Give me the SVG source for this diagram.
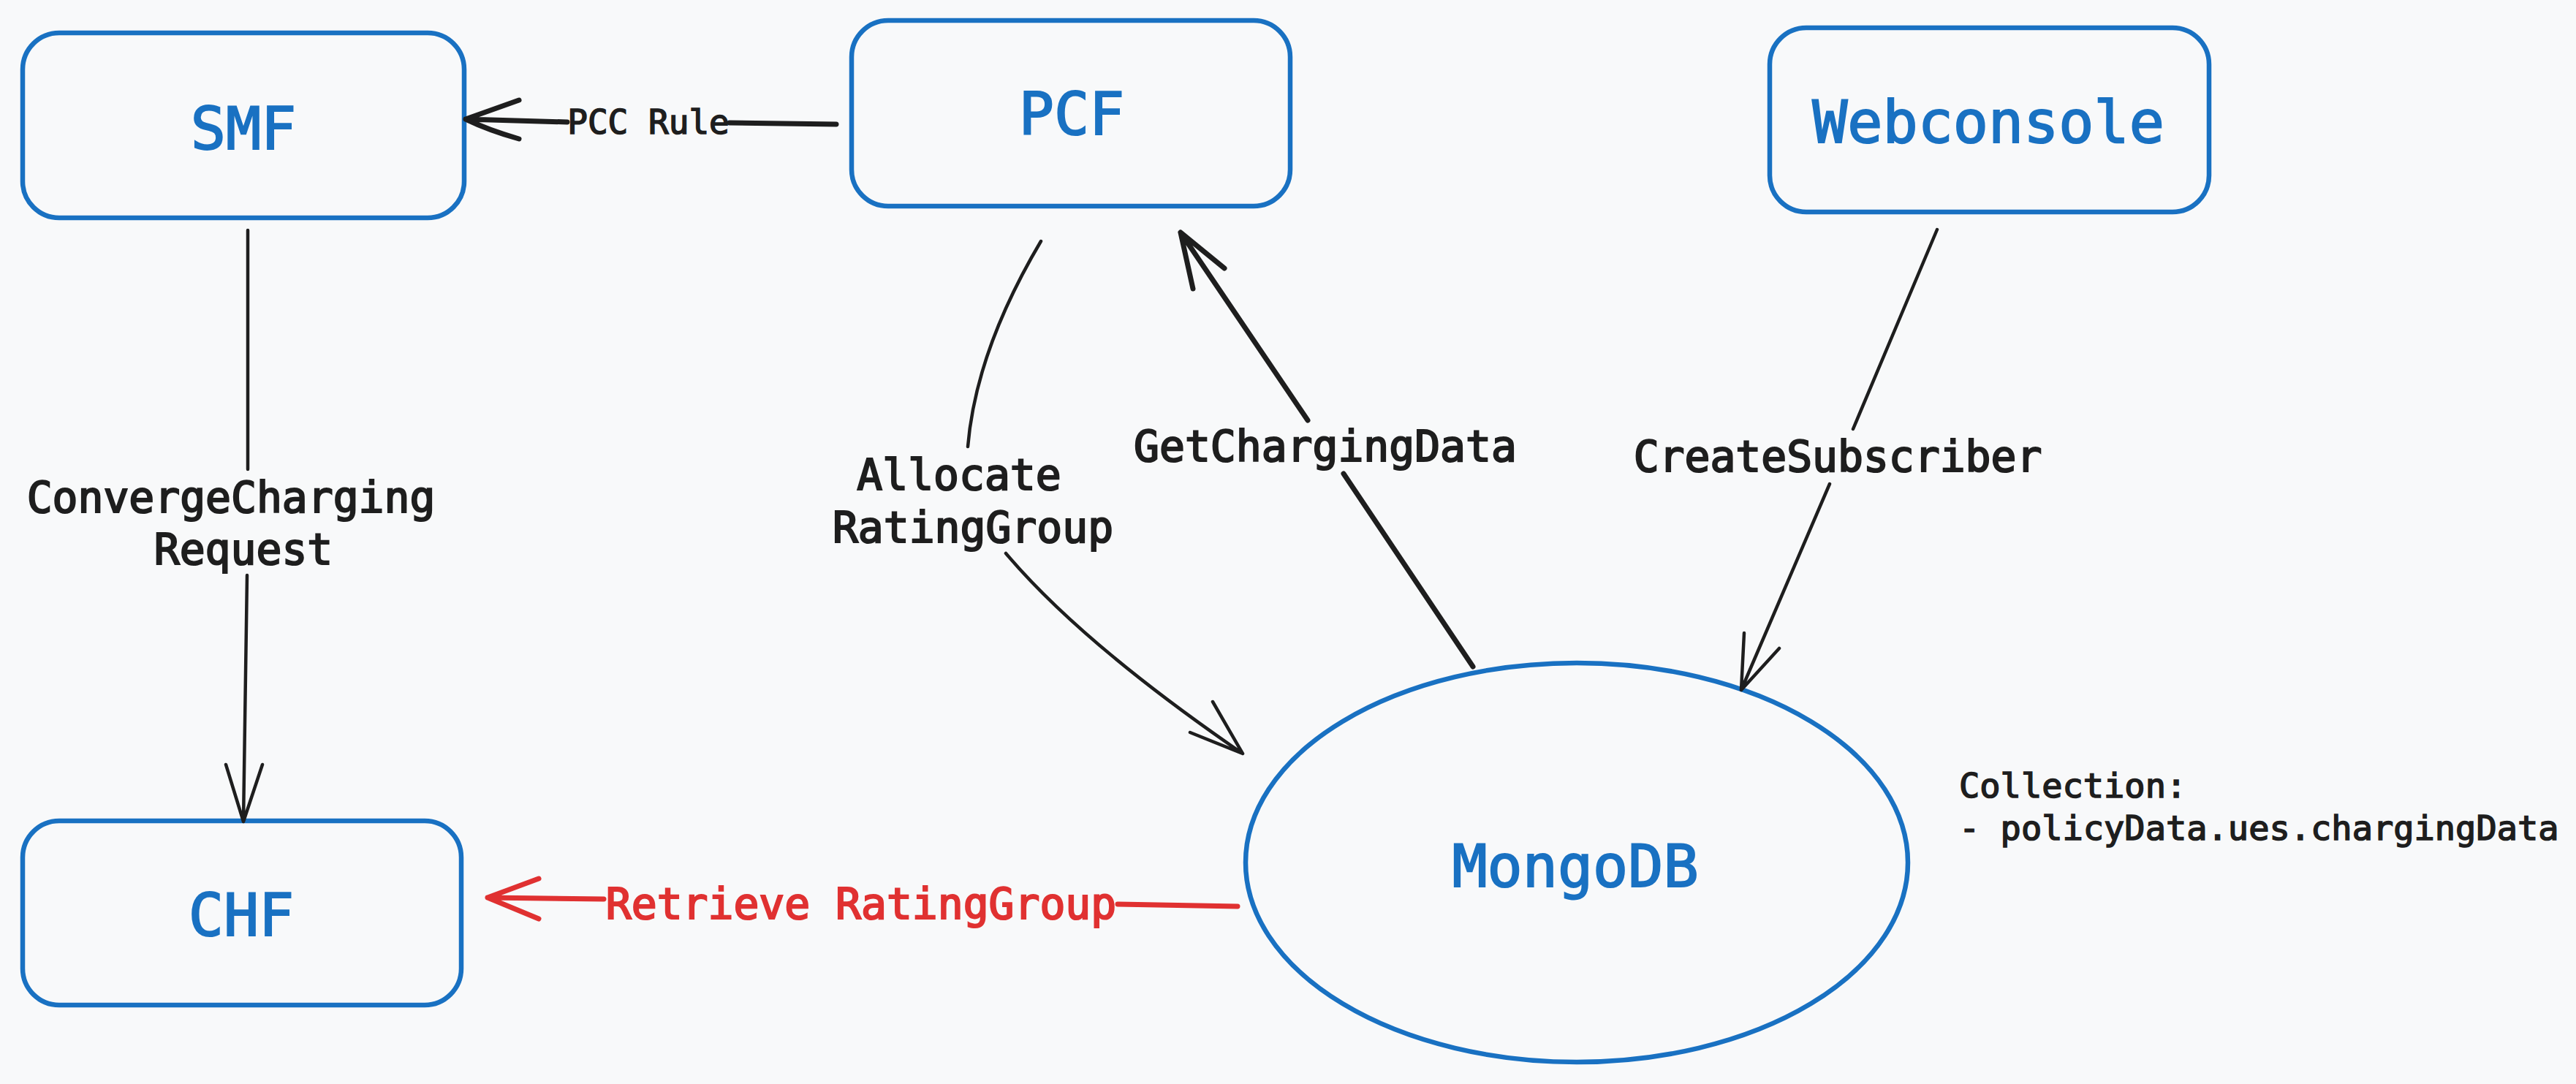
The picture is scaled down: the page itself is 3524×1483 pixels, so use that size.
<svg xmlns="http://www.w3.org/2000/svg" width="3524" height="1483" viewBox="0 0 3524 1483">
<style>
.node{fill:none;stroke:#1971c2;stroke-width:6.5;stroke-linejoin:round}
.nt{font-family:"DejaVu Sans Mono","Liberation Mono",monospace;font-size:80px;fill:#1971c2;stroke:#1971c2;stroke-width:2;text-anchor:middle}
.lt{font-family:"DejaVu Sans Mono","Liberation Mono",monospace;font-size:58px;fill:#1e1e1e;stroke:#1e1e1e;stroke-width:2.2;text-anchor:middle}
.st{font-family:"DejaVu Sans Mono","Liberation Mono",monospace;font-size:47px;fill:#1e1e1e;stroke:#1e1e1e;stroke-width:1.6}
.c{fill:none;stroke:#1e1e1e;stroke-width:4.5;stroke-linecap:round;stroke-linejoin:round}
.cb{fill:none;stroke:#1e1e1e;stroke-width:7;stroke-linecap:round;stroke-linejoin:round}
.cr{fill:none;stroke:#e03131;stroke-width:7;stroke-linecap:round;stroke-linejoin:round}
</style>
<rect width="3524" height="1483" fill="#f8f9fa"/>
<g id="SMF"><rect class="node" x="31" y="45" width="604" height="253" rx="50"/><text class="nt" x="333" y="204">SMF</text></g>
<g id="PCF"><rect class="node" x="1165" y="28" width="600" height="254" rx="50"/><text class="nt" x="1466" y="184">PCF</text></g>
<g id="Webconsole"><rect class="node" x="2421" y="38" width="601" height="252" rx="50"/><text class="nt" x="2720" y="195">Webconsole</text></g>
<g id="CHF"><rect class="node" x="31" y="1123" width="600" height="252" rx="50"/><text class="nt" x="330" y="1280">CHF</text></g>
<g id="MongoDB"><ellipse class="node" cx="2157" cy="1180" rx="453" ry="273"/><text class="nt" x="2155" y="1213">MongoDB</text></g>
<g id="note"><text class="st" x="2680" y="1091">Collection:</text><text class="st" x="2680" y="1149">- policyData.ues.chargingData</text></g>
<g id="connectors">
<path class="cb" d="M1144,170 L998,168 M776,167 L637,163 M710,137 Q668,152 637,163 Q668,178 710,190"/>
<text class="st" x="887" y="183" text-anchor="middle" style="font-size:46px">PCC Rule</text>
<path class="c" d="M339,315 L339,642 M338,787 L333,1124 M309,1046 L333,1124 L359,1046"/>
<text class="lt" x="316" y="701">ConvergeCharging</text>
<text class="lt" x="333" y="772">Request</text>
<path class="c" d="M1424,330 Q1335,480 1324,611 M1376,757 Q1480,880 1700,1031 M1659,960 L1700,1031 L1628,1002"/>
<text class="lt" x="1312" y="670">Allocate</text>
<text class="lt" x="1331" y="742">RatingGroup</text>
<path class="cb" d="M2015,912 L1838,648 M1789,575 L1615,318 M1675,367 L1615,318 L1632,395"/>
<text class="lt" x="1813" y="631">GetChargingData</text>
<path class="c" d="M2650,314 L2535,587 M2503,662 L2382,944 M2386,866 L2382,944 L2434,887"/>
<text class="lt" x="2514" y="645">CreateSubscriber</text>
<path class="cr" d="M1693,1240 L1529,1237 M826,1230 L667,1228 M737,1202 L667,1228 L737,1257"/>
<text class="lt" x="1178" y="1257" style="fill:#e03131;stroke:#e03131">Retrieve RatingGroup</text>
</g>
</svg>
